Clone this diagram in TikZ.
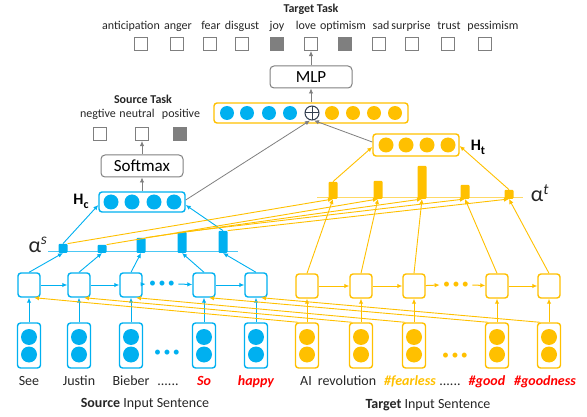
\documentclass[tikz,border=0pt]{standalone}
\usepackage{fontspec}
\setmainfont{Carlito}
\usepackage{xcolor}
\usetikzlibrary{arrows.meta,positioning}

\definecolor{sblue}{HTML}{00B0F0}
\definecolor{tyel}{HTML}{FFC000}
\definecolor{lgray}{HTML}{7F7F7F}
\definecolor{opc}{HTML}{333F50}

\tikzset{
  rnn/.style={draw, rounded corners=3pt, line width=1.4pt, minimum width=22pt, minimum height=24pt, inner sep=0pt, fill=white},
  emb/.style={draw, rounded corners=3pt, line width=1.4pt, minimum width=23pt, minimum height=45pt, inner sep=0pt},
  hbox/.style={draw, rounded corners=3pt, line width=1.4pt, minimum width=86pt, minimum height=21pt, inner sep=0pt},
  unit/.style={circle, fill, inner sep=0pt, minimum size=15pt},
  bar/.style={rectangle, fill, rounded corners=1pt, inner sep=0pt, minimum width=9pt, anchor=south},
  outsq/.style={draw=lgray, line width=1.1pt, minimum size=13pt, inner sep=0pt},
  grbox/.style={draw=lgray, rounded corners=4pt, line width=1pt, minimum width=82pt, minimum height=22pt, font=\fontsize{17}{19}\selectfont},
  lbl/.style={font=\fontsize{12}{14}\selectfont, text=black!85, inner sep=0pt, anchor=base},
  word/.style={font=\fontsize{14}{16}\selectfont, text=black!85, inner sep=0pt, anchor=base},
  hword/.style={font=\fontsize{14}{16}\selectfont\bfseries\itshape, inner sep=0pt, anchor=base},
  alab/.style={font=\fontsize{22}{24}\selectfont, text=black!85, inner sep=0pt},
  arr/.style={-{Latex[length=5pt,width=4.5pt]}},
  opl/.style={circle, draw=opc, fill=white, line width=1pt, minimum size=14pt, inner sep=0pt,
    path picture={\draw[opc, line width=1pt] (path picture bounding box.north) -- (path picture bounding box.south)
      (path picture bounding box.west) -- (path picture bounding box.east);}},
}

\begin{document}
\begin{tikzpicture}[x=1pt,y=-1pt]
\useasboundingbox (0,0) rectangle (587,417);

% target task
\node[lbl, font=\fontsize{12}{14}\selectfont\bfseries] (ttask) at (311,13) {Target Task};
\foreach \x/\lab [count=\i] in {131/anticipation,178/anger,211/fear,242/disgust,277/joy,306/love,343/optimism,381/sad,411/surprise,449/trust,493/pessimism}
  \node[lbl] (tl\i) at (\x,30) {\lab};
\foreach \x/\f [count=\i] in {141/white,177/white,210/white,242/white,277/lgray,311/white,345/lgray,379/white,412/white,448/white,485/white}
  \node[outsq, fill=\f] (to\i) at (\x,44) {};

% MLP + concat
\node[grbox] (mlp) at (311,77) {MLP};
\node[hbox, draw=tyel, minimum width=194pt, minimum height=20pt] (cat) at (311,113) {};
\foreach \x [count=\i] in {227,247,269,290}
  \node[unit, sblue, minimum size=14pt] (cb\i) at (\x,113) {};
\foreach \x [count=\i] in {332,353,374,395}
  \node[unit, tyel, minimum size=14pt] (cy\i) at (\x,113) {};
\node[opl] (op) at (312,113) {};
\draw[arr, lgray, line width=0.8pt] (cat) -- (mlp);
\draw[arr, lgray, line width=0.8pt] (mlp) -- (to6);

% source task
\node[lbl, font=\fontsize{12}{14}\selectfont\bfseries] (stask) at (143,104) {Source Task};
\node[lbl] (sl1) at (98,118) {negtive};
\node[lbl] (sl2) at (137,118) {neutral};
\node[lbl] (sl3) at (181,118) {positive};
\node[outsq, fill=white] (so1) at (100,134) {};
\node[outsq, fill=white] (so2) at (142,134) {};
\node[outsq, fill=lgray] (so3) at (180,134) {};
\node[grbox] (soft) at (142,166) {Softmax};
\draw[arr, lgray, line width=0.8pt] (soft) -- (so2);

% H_c and H_t
\node[hbox, draw=sblue, minimum height=20pt] (hc) at (142,202) {};
\foreach \x [count=\i] in {111,132,154,174}
  \node[unit, sblue] (hcu\i) at (\x,202) {};
\node[font=\fontsize{16}{18}\selectfont\bfseries] (hclab) at (81,201) {H\raisebox{-4pt}{\fontsize{12}{12}\selectfont c}};
\draw[arr, lgray, line width=0.8pt] (hc) -- (soft);

\node[hbox, draw=tyel, minimum height=22pt] (ht) at (416,145) {};
\foreach \x [count=\i] in {386,406,427,448}
  \node[unit, tyel] (htu\i) at (\x,145) {};
\node[font=\fontsize{16}{18}\selectfont\bfseries] (htlab) at (478,147) {H\raisebox{-4pt}{\fontsize{12}{12}\selectfont t}};

% ... gray lines into the oplus
\draw[arr, lgray, line width=0.8pt] ([yshift=2pt]hc.east) -- ([xshift=-2pt]op.south);
\draw[arr, lgray, line width=0.8pt] ([yshift=3pt]ht.west) -- ([xshift=2pt]op.south);

% attention (source)
\draw[sblue!70, line width=1pt] (48,252) -- (238,252);
\foreach \x/\h [count=\i] in {63/9,102/8,141/15,182/21,223/22}
  \node[bar, sblue, minimum height=\h pt] (sb\i) at (\x,253) {};
\node[alab] (als) at (38,245) {α\textsuperscript{\itshape s}};

% attention (target)
\draw[tyel!60, line width=1pt] (317,198) -- (523,198);
\foreach \x/\h [count=\i] in {333/17,378/18,422/33,465/14,509/9}
  \node[bar, tyel, minimum height=\h pt] (tb\i) at (\x,199) {};
\node[alab] (alt) at (540,193) {α\textsuperscript{\itshape t}};

\draw[arr, sblue, line width=0.9pt] (sb1.north) -- ([yshift=-3pt]hc.west);
\draw[arr, sblue, line width=0.9pt] (sb5.north) -- ([yshift=-3pt]hc.east);
\draw[arr, tyel, line width=0.9pt] (tb1.north) -- ([yshift=-2pt]ht.west);
\draw[arr, tyel, line width=0.9pt] (tb5.north) -- ([yshift=-1pt]ht.east);

% source sentence
\foreach \x [count=\i] in {29,79,131,204,256} {
  \node[rnn, draw=sblue] (s\i) at (\x,285) {};
  \node[emb, draw=sblue] (se\i) at (\x,345.5) {};
  \node[unit, sblue, minimum size=16pt] (sea\i) at (\x,337) {};
  \node[unit, sblue, minimum size=16pt] (seb\i) at (\x,354.5) {};
  \draw[arr, sblue, line width=1pt] (se\i) -- (s\i);
  \draw[arr, sblue, line width=0.9pt] (s\i.north) -- (sb\i.south);
}
\node[text=sblue, font=\fontsize{14}{16}\selectfont] (sdots) at (162,284) {\textbullet\,\textbullet\,\textbullet};
\node[text=sblue, font=\fontsize{14}{16}\selectfont] (sedots) at (167,353) {\textbullet\,\textbullet\,\textbullet};
\draw[arr, sblue, line width=1pt] (s1) -- (s2);
\draw[arr, sblue, line width=1pt] (s2) -- (s3);
\draw[arr, sblue, line width=1pt] (s3) -- (sdots.west);
\draw[arr, sblue, line width=1pt] (sdots.east) -- (s4);
\draw[arr, sblue, line width=1pt] (s4) -- (s5);

% target sentence
\foreach \x [count=\i] in {307,361,414,497,549} {
  \node[rnn, draw=tyel] (t\i) at (\x,286) {};
  \node[emb, draw=tyel] (te\i) at (\x,345.5) {};
  \node[unit, tyel, minimum size=16pt] (tea\i) at (\x,337) {};
  \node[unit, tyel, minimum size=16pt] (teb\i) at (\x,354.5) {};
  \draw[arr, tyel, line width=1pt] (te\i) -- (t\i);
  \draw[arr, tyel, line width=0.9pt] (t\i.north) -- (tb\i.south);
}
\node[text=tyel, font=\fontsize{14}{16}\selectfont] (tdots) at (456,285) {\textbullet\,\textbullet\,\textbullet};
\node[text=tyel, font=\fontsize{14}{16}\selectfont] (tedots) at (455,356) {\textbullet\,\textbullet\,\textbullet};
\draw[arr, tyel, line width=1pt] (t1) -- (t2);
\draw[arr, tyel, line width=1pt] (t2) -- (t3);
\draw[arr, tyel, line width=1pt] (t3) -- (tdots.west);
\draw[arr, tyel, line width=1pt] (tdots.east) -- (t4);
\draw[arr, tyel, line width=1pt] (t4) -- (t5);

% ... cross links
\foreach \i in {1,...,5} {
  \draw[arr, tyel, line width=0.9pt] (sb\i.north east) -- (tb\i.south);
  \draw[arr, tyel, line width=0.9pt] ([xshift=-9pt]te\i.north) -- ([xshift=5pt]s\i.south);
}

% words
\node[word] (w1) at (29,385) {See};
\node[word] (w2) at (79,385) {Justin};
\node[word] (w3) at (131,385) {Bieber};
\node[word] (w4) at (168,385) {......};
\node[hword, text=red] (w5) at (204,385) {So};
\node[hword, text=red] (w6) at (256,385) {happy};
\node[word] (v1) at (306,385) {AI};
\node[word] (v2) at (347,385) {revolution};
\node[hword, text=tyel] (v3) at (410,385) {\#fearless};
\node[word] (v4) at (450,385) {......};
\node[hword, text=red] (v5) at (487,385) {\#good};
\node[hword, text=red] (v6) at (545,385) {\#goodness};

\node[word] (scap) at (145,407) {\textbf{Source} Input Sentence};
\node[word] (tcap) at (428,408) {\textbf{Target} Input Sentence};

\end{tikzpicture}
\end{document}
